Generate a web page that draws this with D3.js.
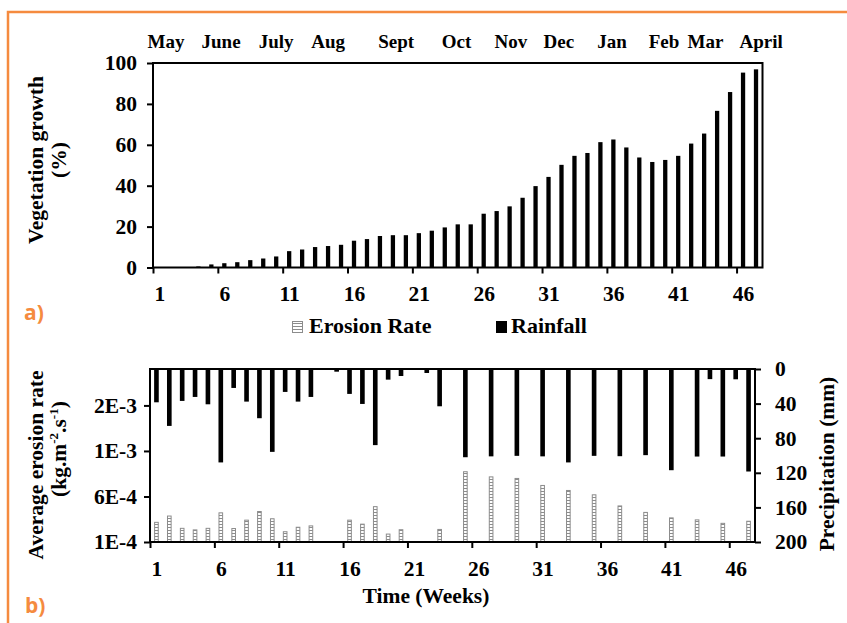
<!DOCTYPE html>
<html>
<head>
<meta charset="utf-8">
<script src="https://cdn.jsdelivr.net/npm/d3@7"></script>
<style>
  body { margin: 0; background: #fff; }
  svg { display: block; }
  .serif { font-family: "Liberation Serif", "Times New Roman", serif; font-weight: bold; fill: #000; }
  .tag { font-family: "Open Sans", "Noto Sans", sans-serif; font-weight: bold; fill: #F58B3F; }
</style>
</head>
<body>
<svg id="chart" width="847" height="623"></svg>
<script>
// ---- data -------------------------------------------------------------
const weeks = d3.range(1, 48);

// vegetation growth (%) per week
const vegetation = [0, 0, 0, 0.5, 1.5, 2.1, 2.6, 3.6, 4.4, 5.4,
  8.0, 8.8, 10.0, 10.5, 11.1, 13.1, 13.9, 15.4, 15.8, 15.8,
  16.8, 18.0, 19.6, 21.1, 21.1, 26.3, 27.6, 29.9, 34.1, 39.8,
  44.3, 50.2, 54.6, 56.0, 61.3, 62.6, 58.7, 53.8, 51.6, 52.6,
  54.6, 60.6, 65.5, 76.6, 85.8, 95.3, 96.9];

// weekly rainfall (mm)
const rainfall = [38.5, 65.8, 36.9, 32.3, 40.8, 108, 21.9, 37.7, 56.9, 95.8,
  26.5, 37.7, 32.3, 0, 3.1, 28.8, 40.4, 88, 12.3, 8.1,
  0, 4.6, 43.1, 0, 102, 0, 101, 0, 100.4, 0,
  101, 0, 108, 0, 100.4, 0, 100.8, 0, 99.6, 0,
  117, 0, 101.2, 11.7, 101.2, 11.9, 118.5];

// average erosion rate (kg.m-2.s-1), null = no measurement that week
const erosion = [3.16e-4, 3.85e-4, 2.5e-4, 2.33e-4, 2.5e-4, 4.2e-4, 2.48e-4, 3.4e-4, 4.35e-4, 3.55e-4,
  2.13e-4, 2.62e-4, 2.77e-4, null, null, 3.4e-4, 2.96e-4, 4.88e-4, 1.87e-4, 2.35e-4,
  null, null, 2.38e-4, null, 8.72e-4, null, 8.15e-4, null, 7.98e-4, null,
  7.21e-4, null, 6.66e-4, null, 6.18e-4, null, 4.96e-4, null, 4.25e-4, null,
  3.65e-4, null, 3.43e-4, null, 3.05e-4, null, 3.28e-4];

const monthLabels = ["May", "June", "July", "Aug", "Sept", "Oct", "Nov", "Dec", "Jan", "Feb", "Mar", "April"];
const monthWeek = [1.5, 5.75, 10, 14, 19.25, 23.9, 28.1, 31.8, 35.9, 39.9, 43.1, 47.4];

const weekTicks = [1, 6, 11, 16, 21, 26, 31, 36, 41, 46];
const vegTicks = [0, 20, 40, 60, 80, 100];
const erosionTicks = [1e-4, 6e-4, 1.1e-3, 1.6e-3];
const erosionTickLabels = ["1E-4", "6E-4", "1E-3", "2E-3"];
const precipTicks = [0, 40, 80, 120, 160, 200];

// ---- setup ------------------------------------------------------------
const svg = d3.select("#chart");
const FS = 21.5;      // tick labels and axis titles
const FS_MONTH = 19;  // month labels
const FS_LEG = 22;    // legend
const orange = "#F58B3F";
const hatchGrey = "#8c8c8c";

const defs = svg.append("defs");
const pat = defs.append("pattern").attr("id", "hatch")
  .attr("patternUnits", "userSpaceOnUse").attr("width", 6).attr("height", 3);
pat.append("rect").attr("width", 6).attr("height", 3).attr("fill", "#fff");
pat.append("rect").attr("y", 2).attr("width", 6).attr("height", 1).attr("fill", hatchGrey);

svg.append("rect").attr("width", 847).attr("height", 623).attr("fill", "#fff");

// orange panel frame
svg.append("path").attr("d", "M8,623 V12 H847")
  .attr("fill", "none").attr("stroke", orange).attr("stroke-width", 2.5);

function styleAxis(g) {
  g.select(".domain").remove();
  g.selectAll(".tick line").attr("stroke", "#000").attr("stroke-width", 2);
  g.selectAll(".tick text").attr("class", "serif").style("font-size", FS + "px");
}

function title(x, y, txt) {
  return svg.append("text").attr("class", "serif").style("font-size", FS + "px")
    .attr("text-anchor", "middle").attr("transform", `translate(${x},${y}) rotate(-90)`)
    .text(txt);
}

// ---- panel a: vegetation growth --------------------------------------
const A = { l: 153, r: 762.5, t: 63, b: 267.5 };
const xA = d3.scaleBand().domain(weeks).range([A.l, A.r]).paddingInner(0.67).paddingOuter(0.335);
const xAL = d3.scaleLinear().domain([0.5, 47.5]).range([A.l, A.r]);
const yA = d3.scaleLinear().domain([0, 100]).range([A.b, A.t]);

svg.append("g").selectAll("rect").data(weeks).join("rect")
  .attr("x", d => xA(d)).attr("width", xA.bandwidth())
  .attr("y", (d, i) => yA(vegetation[i]))
  .attr("height", (d, i) => yA(0) - yA(vegetation[i]))
  .attr("fill", "#000");

// tick marks at week boundaries
svg.append("g").attr("transform", `translate(0,${A.b})`)
  .call(d3.axisBottom(xAL).tickValues(weekTicks.map(w => w - 0.5)).tickSize(6).tickFormat(""))
  .call(styleAxis);
// week labels centred on bars
svg.append("g").attr("transform", `translate(0,${A.b})`)
  .call(d3.axisBottom(xAL).tickValues(weekTicks).tickSize(0).tickPadding(18).tickFormat(d3.format("d")))
  .call(styleAxis);

svg.append("g").attr("transform", `translate(${A.l},0)`)
  .call(d3.axisLeft(yA).tickValues(vegTicks).tickSize(6).tickPadding(10))
  .call(styleAxis);

svg.append("rect").attr("x", A.l).attr("y", A.t)
  .attr("width", A.r - A.l).attr("height", A.b - A.t)
  .attr("fill", "none").attr("stroke", "#000").attr("stroke-width", 2);

svg.append("g").selectAll("text").data(monthLabels).join("text")
  .attr("class", "serif").style("font-size", FS_MONTH + "px")
  .attr("text-anchor", "middle")
  .attr("x", (d, i) => xAL(monthWeek[i])).attr("y", 48)
  .text(d => d);

title(43, 160, "Vegetation growth");
title(66, 160, "(%)");

svg.append("text").attr("class", "tag").style("font-size", "21px")
  .attr("x", 24).attr("y", 320).text("a)");

// ---- legend -----------------------------------------------------------
svg.append("rect").attr("x", 292.5).attr("y", 321.5).attr("width", 10).attr("height", 11)
  .attr("fill", "url(#hatch)").attr("stroke", hatchGrey).attr("stroke-width", 1);
svg.append("text").attr("class", "serif").style("font-size", FS_LEG + "px")
  .attr("x", 309).attr("y", 333).text("Erosion Rate");
svg.append("rect").attr("x", 496).attr("y", 321).attr("width", 11).attr("height", 12).attr("fill", "#000");
svg.append("text").attr("class", "serif").style("font-size", FS_LEG + "px")
  .attr("x", 511).attr("y", 333).text("Rainfall");

// ---- panel b: erosion rate and precipitation --------------------------
const B = { l: 150, r: 755, t: 369, b: 542 };
const xB = d3.scaleBand().domain(weeks).range([B.l, B.r]).paddingInner(0.64).paddingOuter(0.32);
const xBL = d3.scaleLinear().domain([0.5, 47.5]).range([B.l, B.r]);
const yE = d3.scaleLinear().domain([1e-4, 2.0e-3]).range([B.b, B.t]);
const yP = d3.scaleLinear().domain([0, 200]).range([B.t, B.b]);

// rainfall hangs from the top (reversed secondary axis)
svg.append("g").selectAll("rect").data(weeks.filter((d, i) => rainfall[i] > 0)).join("rect")
  .attr("x", d => xB(d)).attr("width", xB.bandwidth())
  .attr("y", yP(0))
  .attr("height", d => yP(rainfall[d - 1]) - yP(0))
  .attr("fill", "#000");

svg.append("g").selectAll("rect").data(weeks.filter((d, i) => erosion[i] != null)).join("rect")
  .attr("x", d => xB(d) + 0.5).attr("width", xB.bandwidth() - 1)
  .attr("y", d => yE(erosion[d - 1]))
  .attr("height", d => yE(1e-4) - yE(erosion[d - 1]))
  .attr("fill", "url(#hatch)").attr("stroke", hatchGrey).attr("stroke-width", 1);

svg.append("g").attr("transform", `translate(0,${B.b})`)
  .call(d3.axisBottom(xBL).tickValues(weekTicks.map(w => w - 0.5)).tickSize(6).tickFormat(""))
  .call(styleAxis);
svg.append("g").attr("transform", `translate(0,${B.b})`)
  .call(d3.axisBottom(xBL).tickValues(weekTicks).tickSize(0).tickPadding(19).tickFormat(d3.format("d")))
  .call(styleAxis);

svg.append("g").attr("transform", `translate(${B.l},0)`)
  .call(d3.axisLeft(yE).tickValues(erosionTicks).tickSize(6).tickPadding(7)
    .tickFormat((d, i) => erosionTickLabels[i]))
  .call(styleAxis);

svg.append("g").attr("transform", `translate(${B.r},0)`)
  .call(d3.axisRight(yP).tickValues(precipTicks).tickSize(6).tickPadding(14))
  .call(styleAxis);

svg.append("rect").attr("x", B.l).attr("y", B.t)
  .attr("width", B.r - B.l).attr("height", B.b - B.t)
  .attr("fill", "none").attr("stroke", "#000").attr("stroke-width", 2);

title(43, 465, "Average erosion rate");
const yl2 = svg.append("text").attr("class", "serif").style("font-size", FS + "px")
  .attr("text-anchor", "middle").attr("transform", "translate(66,449) rotate(-90)");
yl2.append("tspan").text("(kg.m");
yl2.append("tspan").attr("dy", -8).style("font-size", "13px").text("-2");
yl2.append("tspan").attr("dy", 8).text(".s");
yl2.append("tspan").attr("dy", -8).style("font-size", "13px").text("-1");
yl2.append("tspan").attr("dy", 8).text(")");

title(834, 464, "Precipitation (mm)");

svg.append("text").attr("class", "serif").style("font-size", FS + "px")
  .attr("text-anchor", "middle").attr("x", 426).attr("y", 603)
  .text("Time (Weeks)");

svg.append("text").attr("class", "tag").style("font-size", "21px")
  .attr("x", 25).attr("y", 613).text("b)");
</script>
</body>
</html>
